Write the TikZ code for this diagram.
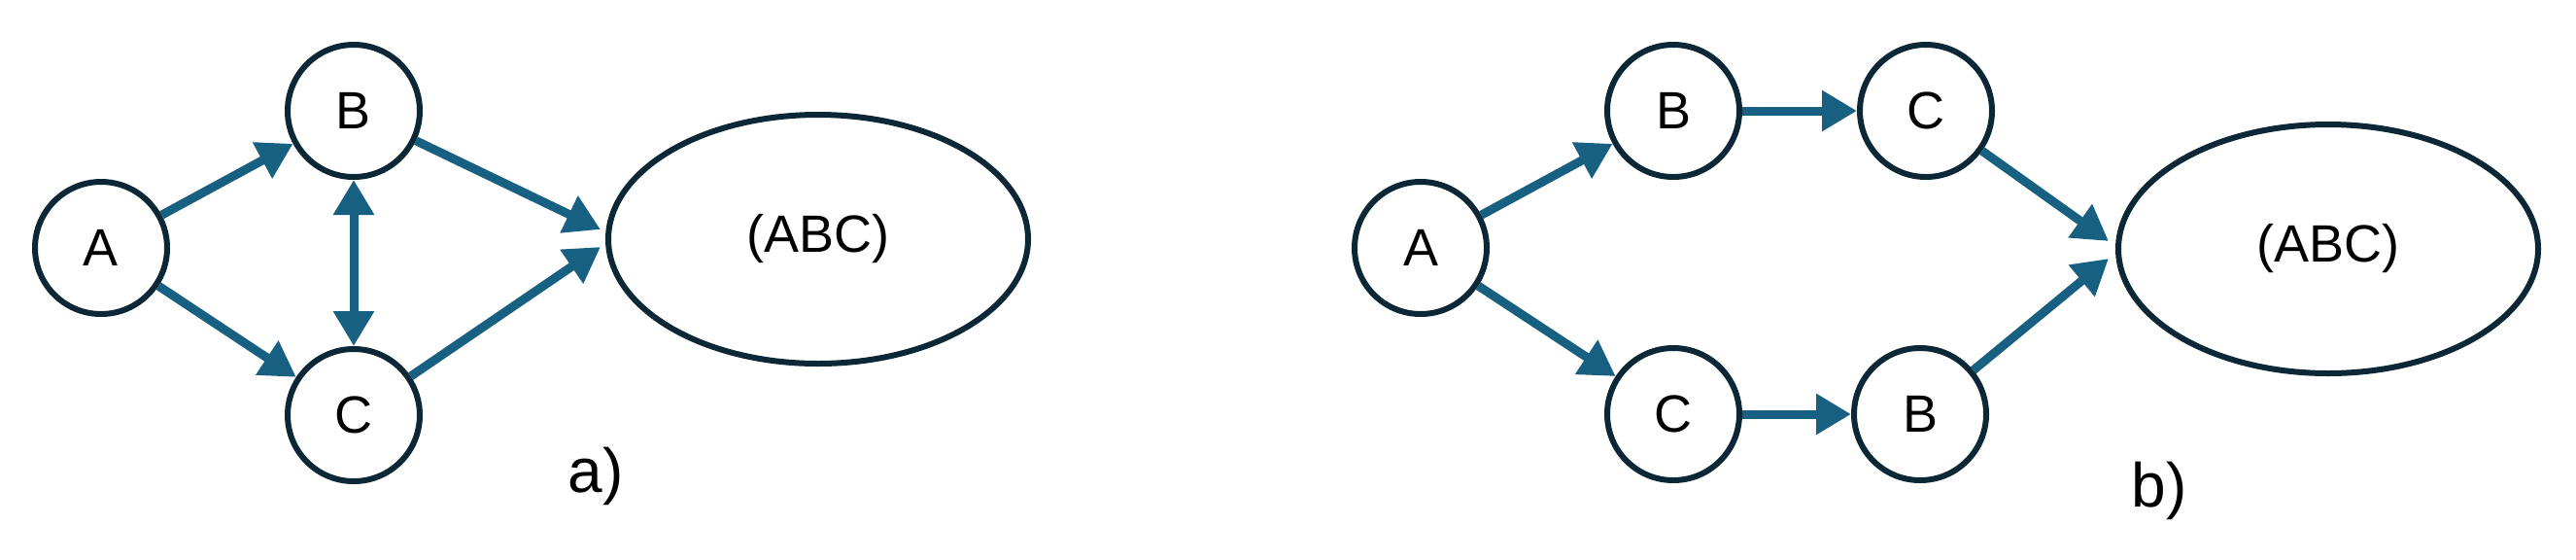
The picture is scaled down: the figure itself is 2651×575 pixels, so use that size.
\documentclass[tikz,border=0pt]{standalone}
\usepackage{fontspec}
\setmainfont{Liberation Sans}
\usetikzlibrary{arrows.meta,shapes.geometric}
\definecolor{arr}{RGB}{24,96,130}
\definecolor{rim}{RGB}{12,40,55}
\begin{document}
\begin{tikzpicture}[x=0.5pt,y=-0.5pt,
  vert/.style={circle,draw=rim,line width=3pt,minimum size=68pt,inner sep=0pt,font=\fontsize{27}{30}\selectfont},
  big/.style={ellipse,draw=rim,line width=3pt,minimum width=216pt,minimum height=128pt,inner sep=0pt,font=\fontsize{27}{30}\selectfont},
  link/.style={draw=arr,line width=4.5pt,-{Triangle[length=18pt,width=20pt]}},
  dlink/.style={draw=arr,line width=4.5pt,{Triangle[length=18pt,width=20pt]}-{Triangle[length=18pt,width=20pt]}},
  lab/.style={font=\fontsize{32}{36}\selectfont}]
\useasboundingbox (0,0) rectangle (2651,575);
% a)
\node[vert] (aA) at (104,255) {A};
\node[vert] (aB) at (364,114) {B};
\node[vert] (aC) at (364,427) {C};
\node[big] (aE) at (842,246) {(ABC)};
\coordinate (aT) at (618,236);
\coordinate (aT2) at (618,254);
\draw[link] (aA) -- (aB);
\draw[link] (aA) -- (aC);
\draw[dlink] (aB) -- (aC);
\draw[link] (aB) -- (aT);
\draw[link] (aC) -- (aT2);
\node[lab] (la) at (613,490) {a)};
% b)
\node[vert] (bA) at (1462,255) {A};
\node[vert] (bB1) at (1722,114) {B};
\node[vert] (bC1) at (1982,114) {C};
\node[vert] (bC2) at (1722,426) {C};
\node[vert] (bB2) at (1976,426) {B};
\node[big] (bE) at (2396,256) {(ABC)};
\coordinate (bT) at (2170,248);
\coordinate (bT2) at (2170,266);
\draw[link] (bA) -- (bB1);
\draw[link] (bA) -- (bC2);
\draw[link] (bB1) -- (bC1);
\draw[link] (bC2) -- (bB2);
\draw[link] (bC1) -- (bT);
\draw[link] (bB2) -- (bT2);
\node[lab] (lb) at (2222,505) {b)};
\end{tikzpicture}
\end{document}
